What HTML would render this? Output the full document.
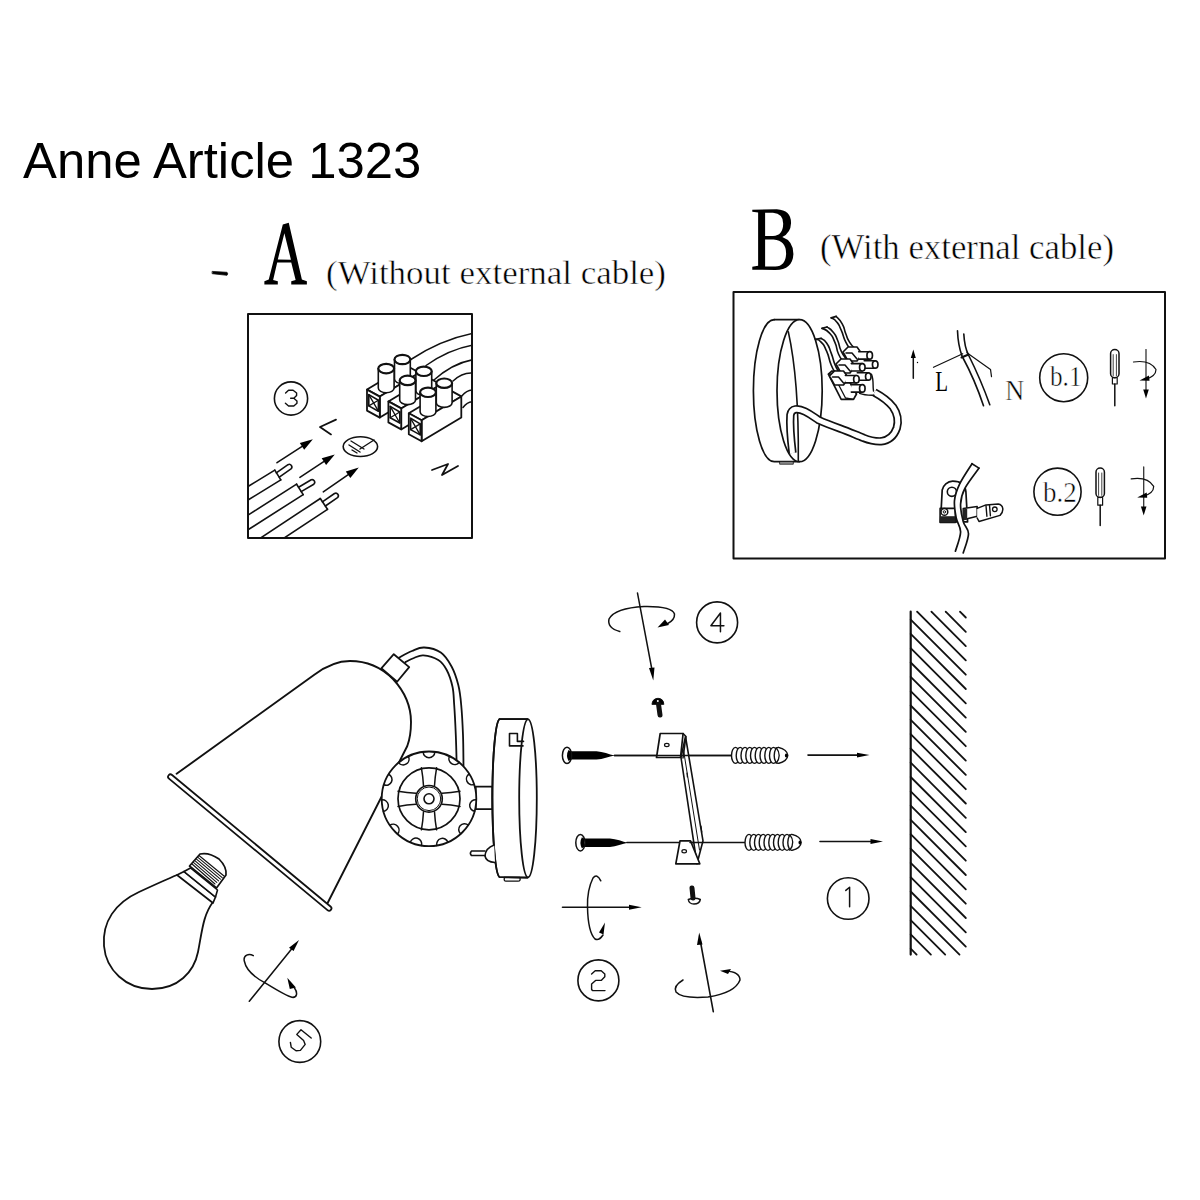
<!DOCTYPE html>
<html><head><meta charset="utf-8"><style>
html,body{margin:0;padding:0;background:#fff;}
svg{display:block;}
</style></head><body>
<svg width="1200" height="1200" viewBox="0 0 1200 1200">
<rect width="1200" height="1200" fill="#fff"/>
<g fill="none" stroke="#111" stroke-width="1.6" stroke-linecap="round" stroke-linejoin="round">
<path d="M212.5,271.4 L227,272.3 Q228.5,274 227,275.3 L212.5,273.7 Z" fill="#000" stroke-width="0.8"/>
<path transform="translate(255,215) scale(0.0625)" fill="#000" stroke="none" fill-rule="evenodd" d="M150,1110 L365,1110 L365,1060 L290,1040 L355,760 L580,760 L650,1040 L580,1060 L580,1110 L830,1110 L830,1060 L750,1030 L540,125 L445,150 L220,1030 L150,1060 Z M470,290 L365,710 L575,715 Z"/>
<path transform="translate(745,205) scale(0.05831)" fill="#000" stroke="none" fill-rule="evenodd" d="M125,80 L545,75 Q790,90 790,310 Q785,480 640,550 Q830,620 830,840 Q820,1110 520,1115 L125,1110 L125,1060 L225,1040 L225,130 L125,115 Z M345,135 L480,135 Q655,150 655,320 Q650,525 480,530 L345,530 Z M345,590 L490,590 Q705,610 705,830 Q700,1050 520,1055 L345,1055 Z"/>
<rect x="248" y="314" width="224" height="224" stroke-width="2"/>
<clipPath id="clipA"><rect x="248" y="314" width="224" height="224"/></clipPath>
<g clip-path="url(#clipA)"><line x1="216.7" y1="519.3" x2="280.8" y2="479.9"/><line x1="210.7" y1="509.4" x2="274.8" y2="470.1"/><line x1="280.8" y1="479.9" x2="274.8" y2="470.1"/><path d="M279.3,477.1 L291.0,468.9 A2.6,2.6 0 0 0 288.0,464.7 L276.3,472.9"/><line x1="217.4" y1="549.3" x2="303.2" y2="494.6"/><line x1="210.7" y1="538.9" x2="296.6" y2="484.2"/><line x1="303.2" y1="494.6" x2="296.6" y2="484.2"/><path d="M301.2,491.6 L313.8,484.2 A2.6,2.6 0 0 0 311.2,479.8 L298.6,487.2"/><line x1="243.0" y1="565.2" x2="327.5" y2="509.3"/><line x1="235.9" y1="554.3" x2="320.3" y2="498.5"/><line x1="327.5" y1="509.3" x2="320.3" y2="498.5"/><path d="M325.4,506.0 L337.5,497.7 A2.6,2.6 0 0 0 334.5,493.5 L322.4,501.8"/><line x1="277.0" y1="462.7" x2="303.7" y2="445.3" stroke-width="1.6"/><polygon points="312.9,439.3 304.2,449.7 299.8,443.0" fill="#000" stroke="none"/><line x1="299.9" y1="477.3" x2="325.6" y2="460.4" stroke-width="1.6"/><polygon points="334.8,454.4 326.1,464.9 321.7,458.2" fill="#000" stroke="none"/><line x1="323.3" y1="491.9" x2="349.7" y2="473.7" stroke-width="1.6"/><polygon points="358.8,467.4 350.3,478.1 345.8,471.5" fill="#000" stroke="none"/><polyline points="336,419.6 320,427 331,434.4" stroke-width="1.8"/><polyline points="432,470 448,464 442,475 458,466" stroke-width="1.8"/><ellipse cx="360.4" cy="446.6" rx="17.2" ry="9.9" stroke-width="1.6"/><path d="M351,441 L364,449 M349,445 L360,452 M352,450 L357,453 M360,449 L374,440" stroke-width="1.4"/><path d="M410,360 Q441.0,339.7 473,333.4" stroke-width="1.5"/><path d="M426,365.5 Q449.0,349.3 473,345.1" stroke-width="1.5"/><path d="M433,380.7 Q452.5,363.2 473,359.7" stroke-width="1.5"/><path d="M453,381 Q462.5,372.1 473,373.1" stroke-width="1.5"/><path d="M462,395.8 Q467.0,389.9 473,390" stroke-width="1.5"/><path d="M463,407.5 Q467.5,401.6 473,401.7" stroke-width="1.5"/><polygon points="367.0,389.6 379.8,396.6 419.5,372.7 406.7,365.7" fill="#fff" stroke-width="1.8"/><polygon points="379.8,396.6 419.5,372.7 419.5,393.7 379.8,417.6" fill="#fff" stroke-width="1.8"/><polygon points="367.0,389.6 379.8,396.6 379.8,417.6 367.0,410.6" fill="#fff" stroke-width="1.8"/><polygon points="368.8,394.6 378.4,400.2 378.4,411.2 368.8,405.9" stroke-width="1.6"/><polyline points="368.8,394.6 378.4,411.2" stroke-width="1.3"/><polyline points="378.4,400.2 368.8,405.9" stroke-width="1.3"/><path d="M394.5,359.5 L394.5,379.0 A7.9,4.7 0 0 0 410.3,379.0 L410.3,359.5 Z" fill="#fff" stroke-width="1.6"/><ellipse cx="402.4" cy="359.5" rx="7.9" ry="4.7" fill="#fff" stroke-width="2.2"/><path d="M378.3,368.6 L378.3,388.1 A7.9,4.7 0 0 0 394.1,388.1 L394.1,368.6 Z" fill="#fff" stroke-width="1.6"/><ellipse cx="386.2" cy="368.6" rx="7.9" ry="4.7" fill="#fff" stroke-width="2.2"/><polygon points="388.4,401.4 401.2,408.4 440.9,384.5 428.1,377.5" fill="#fff" stroke-width="1.8"/><polygon points="401.2,408.4 440.9,384.5 440.9,405.5 401.2,429.4" fill="#fff" stroke-width="1.8"/><polygon points="388.4,401.4 401.2,408.4 401.2,429.4 388.4,422.4" fill="#fff" stroke-width="1.8"/><polygon points="390.2,406.4 399.8,412.0 399.8,423.0 390.2,417.7" stroke-width="1.6"/><polyline points="390.2,406.4 399.8,423.0" stroke-width="1.3"/><polyline points="399.8,412.0 390.2,417.7" stroke-width="1.3"/><path d="M415.9,371.3 L415.9,390.8 A7.9,4.7 0 0 0 431.7,390.8 L431.7,371.3 Z" fill="#fff" stroke-width="1.6"/><ellipse cx="423.8" cy="371.3" rx="7.9" ry="4.7" fill="#fff" stroke-width="2.2"/><path d="M399.7,380.4 L399.7,399.9 A7.9,4.7 0 0 0 415.5,399.9 L415.5,380.4 Z" fill="#fff" stroke-width="1.6"/><ellipse cx="407.6" cy="380.4" rx="7.9" ry="4.7" fill="#fff" stroke-width="2.2"/><polygon points="408.8,413.3 421.6,420.3 461.3,396.4 448.5,389.4" fill="#fff" stroke-width="1.8"/><polygon points="421.6,420.3 461.3,396.4 461.3,417.4 421.6,441.3" fill="#fff" stroke-width="1.8"/><polygon points="408.8,413.3 421.6,420.3 421.6,441.3 408.8,434.3" fill="#fff" stroke-width="1.8"/><polygon points="410.6,418.3 420.2,423.9 420.2,434.9 410.6,429.6" stroke-width="1.6"/><polyline points="410.6,418.3 420.2,434.9" stroke-width="1.3"/><polyline points="420.2,423.9 410.6,429.6" stroke-width="1.3"/><path d="M436.3,383.2 L436.3,402.7 A7.9,4.7 0 0 0 452.1,402.7 L452.1,383.2 Z" fill="#fff" stroke-width="1.6"/><ellipse cx="444.2" cy="383.2" rx="7.9" ry="4.7" fill="#fff" stroke-width="2.2"/><path d="M420.1,392.3 L420.1,411.8 A7.9,4.7 0 0 0 435.9,411.8 L435.9,392.3 Z" fill="#fff" stroke-width="1.6"/><ellipse cx="428.0" cy="392.3" rx="7.9" ry="4.7" fill="#fff" stroke-width="2.2"/></g>
<circle cx="291" cy="398.5" r="16.6" stroke-width="1.6"/>
<polyline points="285.6,393.05 288.55,390.25 293.1,390.25 296.6,393.05 296.6,395.5 293.8,398.3 290.65,398.3 293.8,398.3 296.95,401.1 296.95,403.2 293.8,406 288.55,406 285.4,403.2" stroke-width="1.4"/>
<text x="23.0" y="178.0" font-family="Liberation Sans" font-size="50.8" fill="#000" stroke="none" >Anne Article 1323</text>
<text x="326.0" y="283.5" font-family="Liberation Serif" font-size="33.5" fill="#000"  stroke="#fff" stroke-width="0.5" textLength="340" lengthAdjust="spacingAndGlyphs">(Without external cable)</text>
<text x="820.0" y="259.0" font-family="Liberation Serif" font-size="35" fill="#000"  stroke="#fff" stroke-width="0.5" textLength="294" lengthAdjust="spacingAndGlyphs">(With external cable)</text>
<rect x="733.5" y="292" width="431.5" height="266.5" stroke-width="2"/>
<path d="M774.2,319.7 A20.8,71 0 0 0 774.2,461.7 L799.2,461.7" stroke-width="1.7"/>
<line x1="774.2" y1="319.7" x2="799.2" y2="319.7" stroke-width="1.7"/>
<ellipse cx="799.6" cy="390.7" rx="22.6" ry="71" stroke-width="1.7" fill="#fff"/>
<path d="M788.3,331.7 Q799,380 798.3,461" stroke-width="1.6"/>
<rect x="780" y="461.7" width="13.3" height="2.5" fill="#999" stroke-width="0.8"/>
<path d="M792.5,453 C790.5,436 789.8,423 790.4,415 C791.5,408 798,408 805,411.5 C812,415 815,418 819,420.3 C826,423.5 833,426 840,428.5 C850,432 857,435.5 863.3,437.8 C870,440.5 876,441.5 881,441.3 C888,440.5 894,436 896.8,428 C898.8,421 897.5,413.5 893,407 C889,402 882,396.5 874.5,392.5" stroke-width="8.4" stroke-linecap="butt" stroke-linejoin="round"/>
<path d="M792.5,453 C790.5,436 789.8,423 790.4,415 C791.5,408 798,408 805,411.5 C812,415 815,418 819,420.3 C826,423.5 833,426 840,428.5 C850,432 857,435.5 863.3,437.8 C870,440.5 876,441.5 881,441.3 C888,440.5 894,436 896.8,428 C898.8,421 897.5,413.5 893,407 C889,402 882,396.5 874.5,392.5" stroke="#fff" stroke-width="5.0" stroke-linecap="butt" stroke-linejoin="round"/>
<path d="M831.2,317.8 C833.0,319.2 833.4,317.8 836.7,321.9 C840.1,326.0 838.2,323.5 841.2,330.2 C844.3,336.9 842.4,335.4 845.8,342.1 C849.1,348.8 849.5,347.6 851.3,350.3" stroke-width="1.6"/>
<path d="M836.2,316.4 C838.2,318.8 839.0,317.9 842.2,323.8 C845.4,329.6 843.4,327.7 845.8,333.8 C848.2,339.9 846.4,337.2 849.5,342.1 C852.6,347.0 853.2,346.4 855.0,348.5" stroke-width="1.6"/>
<line x1="831.2" y1="317.8" x2="836.2" y2="316.4" stroke-width="1.8"/>
<path d="M822.0,328.3 C824.4,329.8 825.0,328.3 829.3,332.9 C833.6,337.5 831.7,335.1 834.8,342.1 C837.9,349.1 835.7,347.6 838.5,354.0 C841.3,360.4 841.6,358.9 843.1,361.3" stroke-width="1.6"/>
<path d="M827.0,327.0 C829.0,328.7 829.5,327.6 833.0,332.0 C836.5,336.4 834.9,333.8 837.6,340.2 C840.4,346.7 838.2,344.8 841.2,351.2 C844.3,357.7 844.9,356.8 846.8,359.5" stroke-width="1.6"/>
<line x1="822.0" y1="328.3" x2="827.0" y2="327.0" stroke-width="1.8"/>
<path d="M815.6,339.3 C817.4,340.2 817.4,338.1 821.1,342.1 C824.8,346.1 823.2,343.6 826.6,351.2 C830.0,358.9 828.2,357.7 831.2,365.0 C834.2,372.3 834.2,370.5 835.8,373.2" stroke-width="1.6"/>
<path d="M821.1,338.4 C822.9,339.9 823.2,338.1 826.6,343.0 C830.0,347.9 828.5,346.1 831.2,353.1 C833.9,360.1 832.4,358.0 834.8,364.1 C837.2,370.2 837.3,369.0 838.5,371.4" stroke-width="1.6"/>
<line x1="815.6" y1="339.3" x2="821.1" y2="338.4" stroke-width="1.8"/>
<polygon points="828.4,374.2 841.2,399.4 853.5,399.4 856.5,394 844,372 832,371" fill="#fff" stroke-width="1.7"/>
<polyline points="828.4,374.2 833,374 845.5,398 853.5,399.4" stroke-width="1.3"/>
<polygon points="843.0,352.0 848.0,347.0 857.0,347.0 862.0,354.0 857.0,361.0 848.0,361.0" fill="#fff" stroke-width="1.6"/>
<polyline points="846.0,353.0 852.0,353.0 857.0,359.0" stroke-width="1.5"/>
<polygon points="836.0,364.0 841.0,359.0 850.0,359.0 855.0,366.0 850.0,373.0 841.0,373.0" fill="#fff" stroke-width="1.6"/>
<polyline points="839.0,365.0 845.0,365.0 850.0,371.0" stroke-width="1.5"/>
<polygon points="829.5,376.0 834.5,371.0 843.5,371.0 848.5,378.0 843.5,385.0 834.5,385.0" fill="#fff" stroke-width="1.6"/>
<polyline points="832.5,377.0 838.5,377.0 843.5,383.0" stroke-width="1.5"/>
<path d="M858.7,351.7 L869.7,351.7 A2.75,3.7 0 0 1 869.7,359.1 L858.7,359.1 Z" fill="#fff" stroke="none"/>
<path d="M858.7,351.7 L869.7,351.7 M858.7,359.1 L869.7,359.1" stroke-width="1.6"/>
<ellipse cx="869.7" cy="355.4" rx="2.75" ry="3.7" fill="#fff" stroke-width="1.7"/>
<path d="M864.2,360.8 L875.2,360.8 A2.75,3.7 0 0 1 875.2,368.2 L864.2,368.2 Z" fill="#fff" stroke="none"/>
<path d="M864.2,360.8 L875.2,360.8 M864.2,368.2 L875.2,368.2" stroke-width="1.6"/>
<ellipse cx="875.2" cy="364.5" rx="2.75" ry="3.7" fill="#fff" stroke-width="1.7"/>
<path d="M851.3,363.6 L862.3,363.6 A2.75,3.7 0 0 1 862.3,371.0 L851.3,371.0 Z" fill="#fff" stroke="none"/>
<path d="M851.3,363.6 L862.3,363.6 M851.3,371.0 L862.3,371.0" stroke-width="1.6"/>
<ellipse cx="862.3" cy="367.3" rx="2.75" ry="3.7" fill="#fff" stroke-width="1.7"/>
<path d="M857.3,372.8 L868.3,372.8 A2.75,3.7 0 0 1 868.3,380.2 L857.3,380.2 Z" fill="#fff" stroke="none"/>
<path d="M857.3,372.8 L868.3,372.8 M857.3,380.2 L868.3,380.2" stroke-width="1.6"/>
<ellipse cx="868.3" cy="376.5" rx="2.75" ry="3.7" fill="#fff" stroke-width="1.7"/>
<path d="M845.4,375.5 L856.4,375.5 A2.75,3.7 0 0 1 856.4,382.9 L845.4,382.9 Z" fill="#fff" stroke="none"/>
<path d="M845.4,375.5 L856.4,375.5 M845.4,382.9 L856.4,382.9" stroke-width="1.6"/>
<ellipse cx="856.4" cy="379.2" rx="2.75" ry="3.7" fill="#fff" stroke-width="1.7"/>
<path d="M851.3,384.7 L862.3,384.7 A2.75,3.7 0 0 1 862.3,392.1 L851.3,392.1 Z" fill="#fff" stroke="none"/>
<path d="M851.3,384.7 L862.3,384.7 M851.3,392.1 L862.3,392.1" stroke-width="1.6"/>
<ellipse cx="862.3" cy="388.4" rx="2.75" ry="3.7" fill="#fff" stroke-width="1.7"/>
<path d="M859.6,393.4 C865,395.5 870,395.3 874,395.2 M871.5,374.2 C874,380 872.5,386 873.5,391" stroke-width="1.4"/>
<line x1="913.3" y1="378.3" x2="913.3" y2="356" stroke-width="1.5"/>
<polygon points="913.3,349.5 910.8,358 915.8,358" fill="#000" stroke="none"/>
<circle cx="917.5" cy="362.5" r="0.7" fill="#000" stroke="none"/>
<path d="M957.5,330.8 Q958,345 962,356 Q975,380 983.5,405.8" stroke-width="1.6"/>
<path d="M963.8,334 Q964.5,347 968.5,355 Q981,380 989.8,404.8" stroke-width="1.6"/>
<line x1="961.5" y1="357.5" x2="968.5" y2="354.5" stroke-width="2"/>
<polyline points="933.5,367.3 962.7,353.7" stroke-width="1.2"/>
<polyline points="966.9,352.7 990.5,369.4 991.5,376.7" stroke-width="1.2"/>
<circle cx="1063.7" cy="377.7" r="24" stroke-width="1.6"/>
<rect x="1110.6" y="349.6" width="8.4" height="28.1" rx="4.2" ry="4" stroke-width="1.5"/><line x1="1113.2" y1="354.6" x2="1113.2" y2="375.7" stroke-width="0.8"/><line x1="1116.4" y1="354.6" x2="1116.4" y2="375.7" stroke-width="0.8"/><rect x="1112.4" y="377.7" width="4.8" height="6.3" stroke-width="1.2"/><line x1="1114.8" y1="384.0" x2="1114.8" y2="405.8" stroke-width="1.5"/>
<line x1="1146.0" y1="349.6" x2="1146.0" y2="390.5" stroke-width="1.3" stroke="#333"/><polygon points="1146.0,398.5 1143.2,389.5 1148.8,389.5" fill="#000" stroke="none"/><path d="M1133.5,362.0 Q1150.0,359.5 1156.0,369.5 Q1156.0,376.5 1145.0,379.5" stroke-width="1.2"/><polygon points="1139.5,380.5 1149.0,375.5 1149.5,380.8" fill="#000" stroke="none"/>
<circle cx="1057.5" cy="491.7" r="23.6" stroke-width="1.6"/>
<rect x="1096.0" y="468.0" width="8.4" height="29.4" rx="4.2" ry="4" stroke-width="1.5"/><line x1="1098.6" y1="473.0" x2="1098.6" y2="495.4" stroke-width="0.8"/><line x1="1101.8" y1="473.0" x2="1101.8" y2="495.4" stroke-width="0.8"/><rect x="1097.8" y="497.4" width="4.8" height="7.8" stroke-width="1.2"/><line x1="1100.2" y1="505.2" x2="1100.2" y2="525.5" stroke-width="1.5"/>
<line x1="1143.7" y1="467.0" x2="1143.7" y2="507.4" stroke-width="1.3" stroke="#333"/><polygon points="1143.7,515.4 1140.9,506.4 1146.5,506.4" fill="#000" stroke="none"/><path d="M1131.2,478.9 Q1147.7,476.4 1153.7,486.4 Q1153.7,493.4 1142.7,496.4" stroke-width="1.2"/><polygon points="1137.2,497.4 1146.7,492.4 1147.2,497.7" fill="#000" stroke="none"/>
<path d="M940.5,521.9 L942.2,490.0 C943.1,485.6 947.5,481.2 952.7,481.2 C958.9,481.2 965.0,483.9 965.9,491.7 L967.6,521.9 Z" fill="#fff" stroke-width="1.7"/>
<circle cx="951.9" cy="491.8" r="4.6" stroke-width="1.6"/>
<polygon points="940.1,508.4 955.4,508.4 955.4,522.4 940.1,522.4" fill="#fff" stroke-width="1.6"/>
<polygon points="940.1,516.2 955.4,516.2 955.4,522.4 940.1,522.4" fill="#222" stroke="none"/>
<circle cx="944.4" cy="511.9" r="3.4" fill="#fff" stroke-width="1.5"/>
<circle cx="944.4" cy="511.9" r="1.2" stroke-width="1"/>
<polygon points="963.2,508.4 977.2,506.6 977.2,516.2 963.2,519.7" fill="#fff" stroke-width="1.5"/>
<polygon points="963.2,509.2 967.2,508.8 967.2,519.3 963.2,520.2" fill="#222" stroke="none"/>
<path d="M977.2,508.4 L986.0,504.9 L998.2,504.0 C1003.5,504.9 1004.4,511.0 1000.0,515.4 L979.0,521.5 L977.2,518.0" fill="#fff" stroke-width="1.5"/>
<circle cx="994.8" cy="509.3" r="2.3" stroke-width="1.3"/>
<path d="M986.0,505.7 L986.9,516.2 M989.5,505.3 L990.4,515.8" stroke-width="1.4"/>
<path d="M975.5,465.9 C973.3,469.3 965.4,480.1 962.4,486.1 C959.4,492.2 958.0,496.6 957.6,502.2 C957.2,507.8 958.5,514.6 959.7,519.7 C960.9,524.8 964.7,527.5 964.6,532.9 C964.5,538.3 960.2,548.9 959.3,552.1" stroke="#fff" stroke-width="6.0" stroke-linecap="butt"/>
<path d="M972.0,463.7 C970.0,467.1 962.6,477.8 959.7,483.9 C956.8,490.0 955.1,494.8 954.5,500.5 C953.9,506.2 955.2,512.8 956.2,518.0 C957.2,523.2 960.7,526.5 960.6,532.0 C960.5,537.5 956.3,548.0 955.4,551.2" stroke-width="1.7"/>
<path d="M979.0,468.1 C976.7,471.5 968.1,482.2 965.0,488.2 C961.9,494.2 960.9,498.4 960.6,504.0 C960.3,509.6 961.9,516.5 963.2,521.5 C964.5,526.5 968.5,528.5 968.5,533.7 C968.5,539.0 964.1,549.8 963.2,553.0" stroke-width="1.7"/>
<line x1="972" y1="463.7" x2="979" y2="468.1" stroke-width="1.6"/>
<text x="935.2" y="391.3" font-family="Liberation Serif" font-size="28.5" fill="#000" stroke="none" textLength="12.8" lengthAdjust="spacingAndGlyphs">L</text>
<text x="1005.2" y="399.6" font-family="Liberation Serif" font-size="28.5" fill="#000"  stroke="#fff" stroke-width="0.45" textLength="19" lengthAdjust="spacingAndGlyphs">N</text>
<text x="1050.0" y="386.2" font-family="Liberation Serif" font-size="29" fill="#000"  stroke="#fff" stroke-width="0.5" textLength="31.5" lengthAdjust="spacingAndGlyphs">b.1</text>
<text x="1043.0" y="501.5" font-family="Liberation Serif" font-size="29" fill="#000"  stroke="#fff" stroke-width="0.5" textLength="33.7" lengthAdjust="spacingAndGlyphs">b.2</text>
<path d="M176.6,773.8 L314.3,674.7 C326,666 338,661 350,661 C366,661 381,667 393,679 C405,692 411,706 411,722 C411,733 409.5,740 407.3,746 L327.6,903" stroke-width="1.9" fill="#fff"/>
<line x1="170.5" y1="776.8" x2="329" y2="908.3" stroke-width="6.6" stroke-linecap="round"/>
<line x1="170.5" y1="776.8" x2="329" y2="908.3" stroke="#fff" stroke-width="3.0" stroke-linecap="round"/>
<polygon points="381.3,668.3 393.8,654.2 409.2,667.1 397.1,681.7" fill="#fff" stroke-width="1.8"/>
<path d="M399.2,657.5 C401.3,656.4 407.8,652.7 412.0,651.0 C416.2,649.3 419.4,647.2 424.2,647.5 C429.0,647.8 436.2,649.3 440.8,652.5 C445.4,655.7 448.8,661.3 451.7,666.7 C454.6,672.1 456.7,678.6 458.3,685.0 C459.9,691.4 460.5,696.7 461.2,705.0 C462.0,713.3 462.6,724.8 463.0,735.0 C463.4,745.2 463.4,760.8 463.5,766.0" stroke-width="1.8"/>
<path d="M405.4,662.1 C406.8,661.4 411.0,659.1 414.0,658.0 C417.0,656.9 419.2,655.1 423.3,655.4 C427.4,655.7 434.4,657.6 438.3,660.0 C442.2,662.4 444.3,665.5 446.7,670.0 C449.1,674.5 451.2,680.9 452.5,686.7 C453.8,692.5 453.6,697.0 454.2,705.0 C454.8,713.0 455.4,725.5 455.8,735.0 C456.2,744.5 456.5,757.5 456.6,762.0" stroke-width="1.8"/>
<rect x="475.8" y="786.7" width="16.7" height="22.5" fill="#fff" stroke-width="1.7"/>
<circle cx="429" cy="798.8" r="47.3" fill="#fff" stroke-width="1.8"/>
<path d="M423.2,751.9 A5.8,5.8 0 0 0 434.8,751.9" stroke-width="1.5"/>
<path d="M449.5,756.2 A5.8,5.8 0 0 0 459.2,762.4" stroke-width="1.5"/>
<path d="M469.3,774.0 A5.8,5.8 0 0 0 474.1,784.5" stroke-width="1.5"/>
<path d="M476.3,799.7 A5.8,5.8 0 0 0 474.7,811.2" stroke-width="1.5"/>
<path d="M468.3,825.1 A5.8,5.8 0 0 0 460.7,833.9" stroke-width="1.5"/>
<path d="M447.9,842.2 A5.8,5.8 0 0 0 436.8,845.5" stroke-width="1.5"/>
<path d="M421.5,845.5 A5.8,5.8 0 0 0 410.3,842.3" stroke-width="1.5"/>
<path d="M397.4,834.0 A5.8,5.8 0 0 0 389.8,825.3" stroke-width="1.5"/>
<path d="M383.4,811.4 A5.8,5.8 0 0 0 381.7,799.9" stroke-width="1.5"/>
<path d="M383.8,784.8 A5.8,5.8 0 0 0 388.6,774.2" stroke-width="1.5"/>
<path d="M398.6,762.6 A5.8,5.8 0 0 0 408.3,756.3" stroke-width="1.5"/>
<circle cx="429" cy="798.8" r="31" stroke-width="1.7"/>
<path d="M423.5,785.8 Q423.0,776.8 421.4,767.8" stroke-width="1.5"/>
<path d="M434.5,785.8 Q435.0,776.8 436.6,767.8" stroke-width="1.5"/>
<path d="M442.0,793.3 Q451.0,792.8 460.0,791.2" stroke-width="1.5"/>
<path d="M442.0,804.3 Q451.0,804.8 460.0,806.4" stroke-width="1.5"/>
<path d="M434.5,811.8 Q435.0,820.8 436.6,829.8" stroke-width="1.5"/>
<path d="M423.5,811.8 Q423.0,820.8 421.4,829.8" stroke-width="1.5"/>
<path d="M416.0,804.3 Q407.0,804.8 398.0,806.4" stroke-width="1.5"/>
<path d="M416.0,793.3 Q407.0,792.8 398.0,791.2" stroke-width="1.5"/>
<circle cx="429" cy="798.8" r="13.3" fill="#fff" stroke-width="1.6"/>
<circle cx="429" cy="798.8" r="5" stroke-width="1.6"/>
<circle cx="429" cy="798.8" r="11.8" stroke-width="1.0"/>
<path d="M499.5,719.2 A7.5,79 0 0 0 499.5,877 L527.5,877.5" fill="#fff" stroke-width="1.8"/>
<line x1="499.5" y1="719.2" x2="527.5" y2="719.2" stroke-width="1.8"/>
<rect x="499.5" y="719.2" width="28" height="158" fill="#fff" stroke="none"/>
<path d="M499.5,719.2 A7.5,79 0 0 0 499.5,877 L527.5,877.5 M499.5,719.2 L527.5,719.2" stroke-width="1.8"/>
<ellipse cx="528" cy="798.3" rx="8.8" ry="79" fill="#fff" stroke-width="1.8"/>
<polyline points="523,745.9 509.5,745.9 509.5,733.5 517.4,733.5 517.4,741.4 523.5,741.4" stroke-width="1.6"/>
<path d="M504.5,877.5 L519.8,877.5 Q521,881 518,881.2 L506,881.2 Q503.5,881 504.5,877.5" stroke-width="1.3"/>
<path d="M494.2,845 Q485.5,848 485,856 Q486,862 495,862.5" fill="#fff" stroke-width="1.6"/>
<path d="M485,851 L471.5,851 Q469.2,853.3 471.5,855.6 L485,855.6" stroke-width="1.5"/>
<path d="M177,875 C165,880 152,886 139,892 C115,903 102,922 104,946 C106,970 126,989 152,989 C178,989 194,972 198,952 C202,932 203,915 213,902" fill="#fff" stroke-width="1.8"/>
<polygon points="177,875 184,871.5 215.5,897 213,903" fill="#fff" stroke-width="1.7"/>
<polygon points="184,871.5 190.5,868 217.5,890 215.5,897" fill="#fff" stroke-width="1.6"/>
<path d="M189.5,866 L200,854 Q209,852 219,859 Q227,867 226,875 L216.5,888 Z" fill="#fff" stroke-width="1.7"/>
<line x1="192.0" y1="864.0" x2="215.0" y2="884.0" stroke-width="1.1"/>
<line x1="193.4" y1="862.3" x2="216.8" y2="882.4" stroke-width="1.1"/>
<line x1="194.8" y1="860.6" x2="218.6" y2="880.8" stroke-width="1.1"/>
<line x1="196.2" y1="858.9" x2="220.4" y2="879.2" stroke-width="1.1"/>
<line x1="197.6" y1="857.2" x2="222.2" y2="877.6" stroke-width="1.1"/>
<line x1="199.0" y1="855.5" x2="224.0" y2="876.0" stroke-width="1.1"/>
<line x1="249.3" y1="1001.3" x2="292" y2="948.5" stroke-width="1.5"/>
<polygon points="299,940 289,947.8 293.6,951" fill="#000" stroke="none"/>
<path d="M253.3,955.7 C249,953 243,955 244.3,961 C246,970 256,978 264.7,982.7 C275,989 286,996 292,997.3 C297,998 298,993 294.5,988" stroke-width="1.5"/>
<polygon points="287.3,977.7 289.8,989 295.9,987.5" fill="#000" stroke="none"/>
<circle cx="299.8" cy="1041.5" r="20.9" stroke-width="1.6"/>
<polyline points="311.2,1038 301,1029.8 296.8,1034.4 303.6,1040.4 305.2,1044.4 300.4,1050.4 296,1050.8 291.2,1047.2 290.4,1042.4" stroke-width="1.4"/>
<circle cx="717.1" cy="622.4" r="20.5" stroke-width="1.6"/>
<polyline points="720.45,631.8 720.45,613.0 710.9,625.7 723.9,625.7" stroke-width="1.5"/>
<line x1="637.5" y1="593.1" x2="652" y2="670" stroke-width="1.5"/>
<polygon points="653.3,680.5 649,668 654.5,667.5" fill="#000" stroke="none"/>
<path d="M619.8,631.5 Q607,628 609,619 Q615,608 644,606.5 Q672,606 674.5,614 Q675,620 667,624" stroke-width="1.5"/>
<polygon points="657.5,627.5 665,619.5 669,625" fill="#000" stroke="none"/>
<path d="M652,704 Q652.5,698.5 658,698.3 Q663.5,698.5 663.8,704 Z" fill="#000" stroke-width="1"/>
<line x1="658.5" y1="704" x2="660" y2="715" stroke-width="5" stroke-linecap="round"/>
<circle cx="657.8" cy="701" r="1" fill="#fff" stroke="none"/>
<line x1="614.4" y1="755.4" x2="731" y2="755.4" stroke-width="1.5"/>
<line x1="626.9" y1="842.5" x2="744.6" y2="842.5" stroke-width="1.5"/>
<path d="M568.0,751.2 L596.5,751.2 C603.0,751.6 609.0,754.4 614.5,755.4 C609.0,756.4 603.0,759.2 596.5,759.6 L568.0,759.6 Z" fill="#000" stroke="none"/><ellipse cx="567.0" cy="755.4" rx="4.6" ry="8.2" fill="#fff" stroke-width="1.5"/><path d="M568.5,749.9 Q565.5,755.4 568.5,760.9 L571.0,759.4 L571.0,751.4 Z" fill="#000" stroke="none"/>
<path d="M581.4,838.5 L609.9,838.5 C616.4,838.9 622.4,841.7 627.9,842.7 C622.4,843.7 616.4,846.5 609.9,846.9 L581.4,846.9 Z" fill="#000" stroke="none"/><ellipse cx="580.4" cy="842.7" rx="4.6" ry="8.2" fill="#fff" stroke-width="1.5"/><path d="M581.9,837.2 Q578.9,842.7 581.9,848.2 L584.4,846.7 L584.4,838.7 Z" fill="#000" stroke="none"/>
<ellipse cx="735.5" cy="755.4" rx="4" ry="8" fill="#fff" stroke-width="1.4"/><ellipse cx="740.2" cy="755.4" rx="4" ry="8" fill="#fff" stroke-width="1.4"/><ellipse cx="745.0" cy="755.4" rx="4" ry="8" fill="#fff" stroke-width="1.4"/><ellipse cx="749.8" cy="755.4" rx="4" ry="8" fill="#fff" stroke-width="1.4"/><ellipse cx="754.5" cy="755.4" rx="4" ry="8" fill="#fff" stroke-width="1.4"/><ellipse cx="759.2" cy="755.4" rx="4" ry="8" fill="#fff" stroke-width="1.4"/><ellipse cx="764.0" cy="755.4" rx="4" ry="8" fill="#fff" stroke-width="1.4"/><ellipse cx="768.8" cy="755.4" rx="4" ry="8" fill="#fff" stroke-width="1.4"/><ellipse cx="773.5" cy="755.4" rx="4" ry="8" fill="#fff" stroke-width="1.4"/><ellipse cx="778.2" cy="755.4" rx="4" ry="8" fill="#fff" stroke-width="1.4"/><path d="M778.2,747.4 Q787.2,749.4 787.8,755.4 Q787.2,761.4 778.2,763.4" fill="#fff" stroke-width="1.4"/><path d="M776.2,747.6 Q782.2,755.4 776.2,763.2" stroke-width="1.3"/><ellipse cx="786.2" cy="755.4" rx="1.3" ry="2" fill="#000" stroke="none"/>
<ellipse cx="749.0" cy="842.4" rx="4" ry="8" fill="#fff" stroke-width="1.4"/><ellipse cx="753.8" cy="842.4" rx="4" ry="8" fill="#fff" stroke-width="1.4"/><ellipse cx="758.5" cy="842.4" rx="4" ry="8" fill="#fff" stroke-width="1.4"/><ellipse cx="763.2" cy="842.4" rx="4" ry="8" fill="#fff" stroke-width="1.4"/><ellipse cx="768.0" cy="842.4" rx="4" ry="8" fill="#fff" stroke-width="1.4"/><ellipse cx="772.8" cy="842.4" rx="4" ry="8" fill="#fff" stroke-width="1.4"/><ellipse cx="777.5" cy="842.4" rx="4" ry="8" fill="#fff" stroke-width="1.4"/><ellipse cx="782.2" cy="842.4" rx="4" ry="8" fill="#fff" stroke-width="1.4"/><ellipse cx="787.0" cy="842.4" rx="4" ry="8" fill="#fff" stroke-width="1.4"/><ellipse cx="791.8" cy="842.4" rx="4" ry="8" fill="#fff" stroke-width="1.4"/><path d="M791.8,834.4 Q800.8,836.4 801.2,842.4 Q800.8,848.4 791.8,850.4" fill="#fff" stroke-width="1.4"/><path d="M789.8,834.6 Q795.8,842.4 789.8,850.2" stroke-width="1.3"/><ellipse cx="799.8" cy="842.4" rx="1.3" ry="2" fill="#000" stroke="none"/>
<polygon points="681,757.5 685.5,736.5 703,840.8 697,863.8" fill="#fff" stroke-width="1.6"/>
<line x1="683.5" y1="750" x2="699.5" y2="850" stroke-width="1"/>
<polygon points="660.2,733.5 683.1,733.5 680.5,757.5 656.5,757.5" fill="#fff" stroke-width="1.7"/>
<path d="M683.1,733.5 L686,736.5 L683,758" stroke-width="1.5"/>
<ellipse cx="666.8" cy="745" rx="2.3" ry="1.6" stroke-width="1.2"/>
<polygon points="680,840.8 690.5,840.8 699.8,863.8 675.8,863.8" fill="#fff" stroke-width="1.7"/>
<ellipse cx="684.2" cy="851.3" rx="2.3" ry="1.6" stroke-width="1.2"/>
<line x1="614.4" y1="755.4" x2="731" y2="755.4" stroke-width="1.5"/>
<line x1="690" y1="842.5" x2="703" y2="842.5" stroke-width="1.5"/>
<line x1="701" y1="826" x2="701.8" y2="832" stroke-width="1.2"/>
<line x1="687" y1="773" x2="687.4" y2="777" stroke-width="1.2"/>
<path d="M688.3,899.5 Q689,904 694,904 Q699.5,904 700.3,899.5 Q695,897 688.3,899.5 Z" fill="#fff" stroke-width="1.5"/>
<line x1="692" y1="888" x2="693" y2="898" stroke-width="5" stroke-linecap="round"/>
<line x1="808" y1="755.1" x2="862" y2="755.1" stroke-width="1.6"/>
<polygon points="869.5,755.1 857,752.7 857,757.5" fill="#000" stroke="none"/>
<line x1="820" y1="841.5" x2="876" y2="841.5" stroke-width="1.6"/>
<polygon points="883,841.5 870.5,839.1 870.5,843.9" fill="#000" stroke="none"/>
<circle cx="848.2" cy="898.5" r="20.8" stroke-width="1.6"/>
<polyline points="845.8,890.4 849.6,887.2 849.6,906.8" stroke-width="1.5"/>
<line x1="562.5" y1="907.2" x2="632" y2="907.2" stroke-width="1.6"/>
<polygon points="641.7,907.2 629,904.7 629,909.7" fill="#000" stroke="none"/>
<path d="M600.8,880.8 Q597,873 593,878 Q587,890 587.5,907 Q588,932 595,939 Q599,941 603,935" stroke-width="1.5"/>
<polygon points="605,922.5 599,932.5 603.5,934.5" fill="#000" stroke="none"/>
<circle cx="598.4" cy="980.4" r="20.5" stroke-width="1.6"/>
<polyline points="591.6,974 595.2,970.8 601.2,970.8 604.8,974 604.8,976.8 601.2,980.4 595.6,980.4 591.6,984 591.6,989.6 592.8,990.6 605,990.6" stroke-width="1.4"/>
<line x1="713.3" y1="1011.7" x2="700.5" y2="942" stroke-width="1.6"/>
<polygon points="699.2,932.5 697,945 702.5,944.5" fill="#000" stroke="none"/>
<path d="M683,980 Q673,986 676,992 Q682,999 708,997 Q735,993 740,980 Q740,972 726,971" stroke-width="1.5"/>
<polygon points="720,970.8 731,969 728,974" fill="#000" stroke="none"/>
<line x1="910.7" y1="611.7" x2="910.7" y2="954.6" stroke-width="2.2"/>
<g stroke-width="1.8"><line x1="960.0" y1="611.7" x2="965.8" y2="617.5"/><line x1="945.7" y1="611.7" x2="965.8" y2="631.8"/><line x1="931.4" y1="611.7" x2="965.8" y2="646.1"/><line x1="917.1" y1="611.7" x2="965.8" y2="660.4"/><line x1="910.7" y1="619.6" x2="965.8" y2="674.7"/><line x1="910.7" y1="633.9" x2="965.8" y2="689.0"/><line x1="910.7" y1="648.2" x2="965.8" y2="703.3"/><line x1="910.7" y1="662.5" x2="965.8" y2="717.6"/><line x1="910.7" y1="676.8" x2="965.8" y2="731.9"/><line x1="910.7" y1="691.1" x2="965.8" y2="746.2"/><line x1="910.7" y1="705.5" x2="965.8" y2="760.6"/><line x1="910.7" y1="719.8" x2="965.8" y2="774.9"/><line x1="910.7" y1="734.1" x2="965.8" y2="789.2"/><line x1="910.7" y1="748.4" x2="965.8" y2="803.5"/><line x1="910.7" y1="762.7" x2="965.8" y2="817.8"/><line x1="910.7" y1="777.0" x2="965.8" y2="832.1"/><line x1="910.7" y1="791.3" x2="965.8" y2="846.4"/><line x1="910.7" y1="805.6" x2="965.8" y2="860.7"/><line x1="910.7" y1="819.9" x2="965.8" y2="875.0"/><line x1="910.7" y1="834.2" x2="965.8" y2="889.3"/><line x1="910.7" y1="848.6" x2="965.8" y2="903.7"/><line x1="910.7" y1="862.9" x2="965.8" y2="918.0"/><line x1="910.7" y1="877.2" x2="965.8" y2="932.3"/><line x1="910.7" y1="891.5" x2="965.8" y2="946.6"/><line x1="910.7" y1="905.8" x2="959.5" y2="954.6"/><line x1="910.7" y1="920.1" x2="945.2" y2="954.6"/><line x1="910.7" y1="934.4" x2="930.9" y2="954.6"/><line x1="910.7" y1="948.7" x2="916.6" y2="954.6"/></g>

</g>
</svg>
</body></html>
